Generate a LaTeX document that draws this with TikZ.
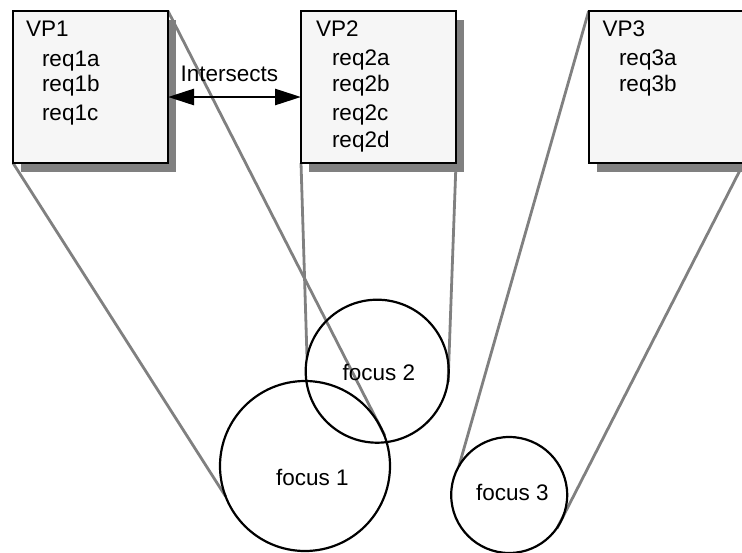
\documentclass[tikz,border=0pt]{standalone}
\usepackage{fontspec}
\setmainfont{Liberation Sans}
\usetikzlibrary{arrows.meta,shadows,backgrounds}
\definecolor{boxfill}{RGB}{246,246,246}
\definecolor{linegray}{RGB}{128,128,128}
\begin{document}
\begin{tikzpicture}[x=1pt,y=-1pt,
  vpbox/.style={rectangle, draw=black, line width=2pt, fill=boxfill,
    minimum width=155pt, minimum height=152pt, inner sep=0pt, outer sep=0pt,
    anchor=north west,
    drop shadow={shadow xshift=8pt, shadow yshift=-9pt, fill=linegray, opacity=1}},
  txt/.style={anchor=base west, inner sep=0pt, outer sep=0pt,
    font=\fontsize{22.5}{26}\selectfont},
  focus/.style={circle, draw=black, line width=2.2pt, inner sep=0pt, outer sep=0pt},
  link/.style={draw=linegray, line width=2.8pt},
  relation/.style={line width=2.6pt,
    {Triangle[length=26pt,width=16pt]}-{Triangle[length=26pt,width=16pt]}}
]
\clip (0,0) rectangle (742,552);
\useasboundingbox (0,0) rectangle (742,552);

% viewpoint boxes
\node[vpbox] (vp1) at (13,11) {};
\node[vpbox] (vp2) at (301,11) {};
\node[vpbox] (vp3) at (588.7,11) {};

% box texts
\node[txt] (t1)  at (26,36.7)  {VP1};
\node[txt] (t1a) at (42,66.7)  {req1a};
\node[txt] (t1b) at (42,91.7)  {req1b};
\node[txt] (t1c) at (42,120.7) {req1c};

\node[txt] (t2)  at (316,36.7)  {VP2};
\node[txt] (t2a) at (332,65.7)  {req2a};
\node[txt] (t2b) at (332,91.7)  {req2b};
\node[txt] (t2c) at (332,120.7) {req2c};
\node[txt] (t2d) at (332,147.7) {req2d};

\node[txt] (t3)  at (602.7,36.7) {VP3};
\node[txt] (t3a) at (619,65)     {req3a};
\node[txt] (t3b) at (619,91.7)   {req3b};

% focus circles
\node[focus, minimum size=170pt] (f1) at (305,466) {};
\node[focus, minimum size=143pt] (f2) at (377.2,371.2) {};
\node[focus, minimum size=116pt] (f3) at (509.2,495) {};

\node[txt] (l1) at (276,485)   {focus 1};
\node[txt] (l2) at (342.7,380.7) {focus 2};
\node[txt] (l3) at (476,500.7) {focus 3};

% intersects relation
\coordinate (ay) at (0,97);
\draw[relation] (vp1.east |- ay) -- (vp2.west |- ay);
\node[txt] (ilab) at (180.5,81.7) {Intersects};

% projection lines
\begin{scope}[on background layer]
\draw[link] (vp1.south west) -- (f1.201);
\draw[link, shorten >=-5pt] (vp1.north east) -- (f1.24);
\draw[link] (vp2.south west) -- (f2.169);
\draw[link, shorten >=-2pt] (vp2.south east) -- (f2.353);
\draw[link] (vp3.north west) -- (f3.150);
\draw[link, shorten >=-3pt] (vp3.south east) -- (f3.328);
\end{scope}
\end{tikzpicture}
\end{document}
